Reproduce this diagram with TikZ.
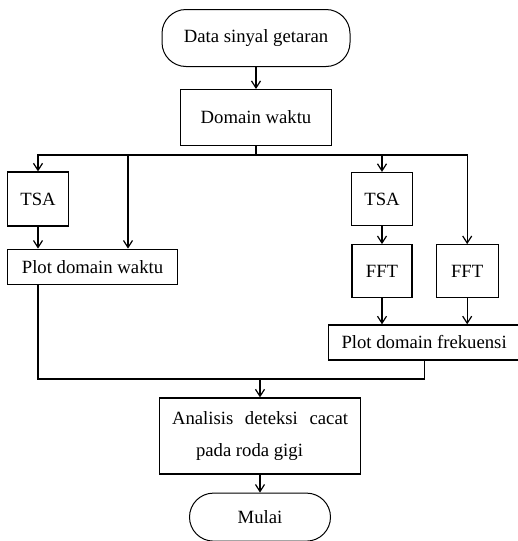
\documentclass[tikz,border=0pt]{standalone}
\usepackage{fontspec}
\setmainfont{Liberation Serif}
\usetikzlibrary{arrows.meta,positioning,calc}
\tikzstyle{block}=[draw, line width=1.2pt, inner sep=2pt]
\tikzstyle{term}=[draw, line width=1pt, rounded corners=24pt, inner sep=2pt]
\tikzstyle{line}=[line width=1.2pt]
\tikzstyle{arrow}=[line width=1.2pt,->,>={Straight Barb[length=7pt,width=9pt]}]

\begin{document}
\begin{tikzpicture}[x=1pt,y=-1pt,font=\fontsize{18.7}{22}\selectfont]
\useasboundingbox (0,0) rectangle (518,541);
\node (start) [term,minimum width=188pt,minimum height=57pt] at (256,38) {Data sinyal getaran};
\node (dw) [below=22pt of start,block,minimum width=151pt,minimum height=56pt] {Domain waktu};
\coordinate (b1) at (256,155);
\coordinate (w) at (128,155);
\node (tsa1) [block,minimum width=61pt,minimum height=54pt] at (38,199) {TSA};
\node (pdw) [below right=22pt and 0pt of tsa1.south west,block,minimum width=170pt,minimum height=35pt] {Plot domain waktu};
\node (tsa2) [block,minimum width=61pt,minimum height=53pt] at (382,199) {TSA};
\node (fft1) [below=18pt of tsa2,block,minimum width=60pt,minimum height=53pt] {FFT};
\node (fft2) [right=23pt of fft1,block,minimum width=62pt,minimum height=53pt] {FFT};
\node (pdf) [below=26pt of {$(fft1.south east)!.5!(fft2.south west)$},block,minimum width=192pt,minimum height=35pt] {Plot domain frekuensi};
\coordinate (b2) at (260,379);
\node (ana) [block,minimum width=201pt,minimum height=76pt,align=left,font=\fontsize{18.7}{32}\selectfont] at (260,436)
  {\makebox[176pt][s]{Analisis deteksi cacat}\\\hspace*{24pt}pada roda gigi};
\node (end) [below=18pt of ana,term,minimum width=141pt,minimum height=48pt] {Mulai};
\draw[arrow] (start)--(dw);
\draw[line] (dw)--(b1);
\draw[arrow] (b1)-|(tsa1);
\draw[arrow] (b1)-|(tsa2);
\draw[arrow] (b1)-|(fft2);
\draw[arrow] (w)--(w |- pdw.north);
\draw[arrow] (tsa1)--(tsa1 |- pdw.north);
\draw[arrow] (tsa2)--(fft1);
\draw[arrow] (fft1)--(fft1 |- pdf.north);
\draw[arrow] (fft2)--(fft2 |- pdf.north);
\draw[line] (pdw.south -| tsa1)|-(b2)-|(pdf);
\draw[arrow] (b2)--(ana);
\draw[arrow] (ana)--(end);
\end{tikzpicture}
\end{document}
